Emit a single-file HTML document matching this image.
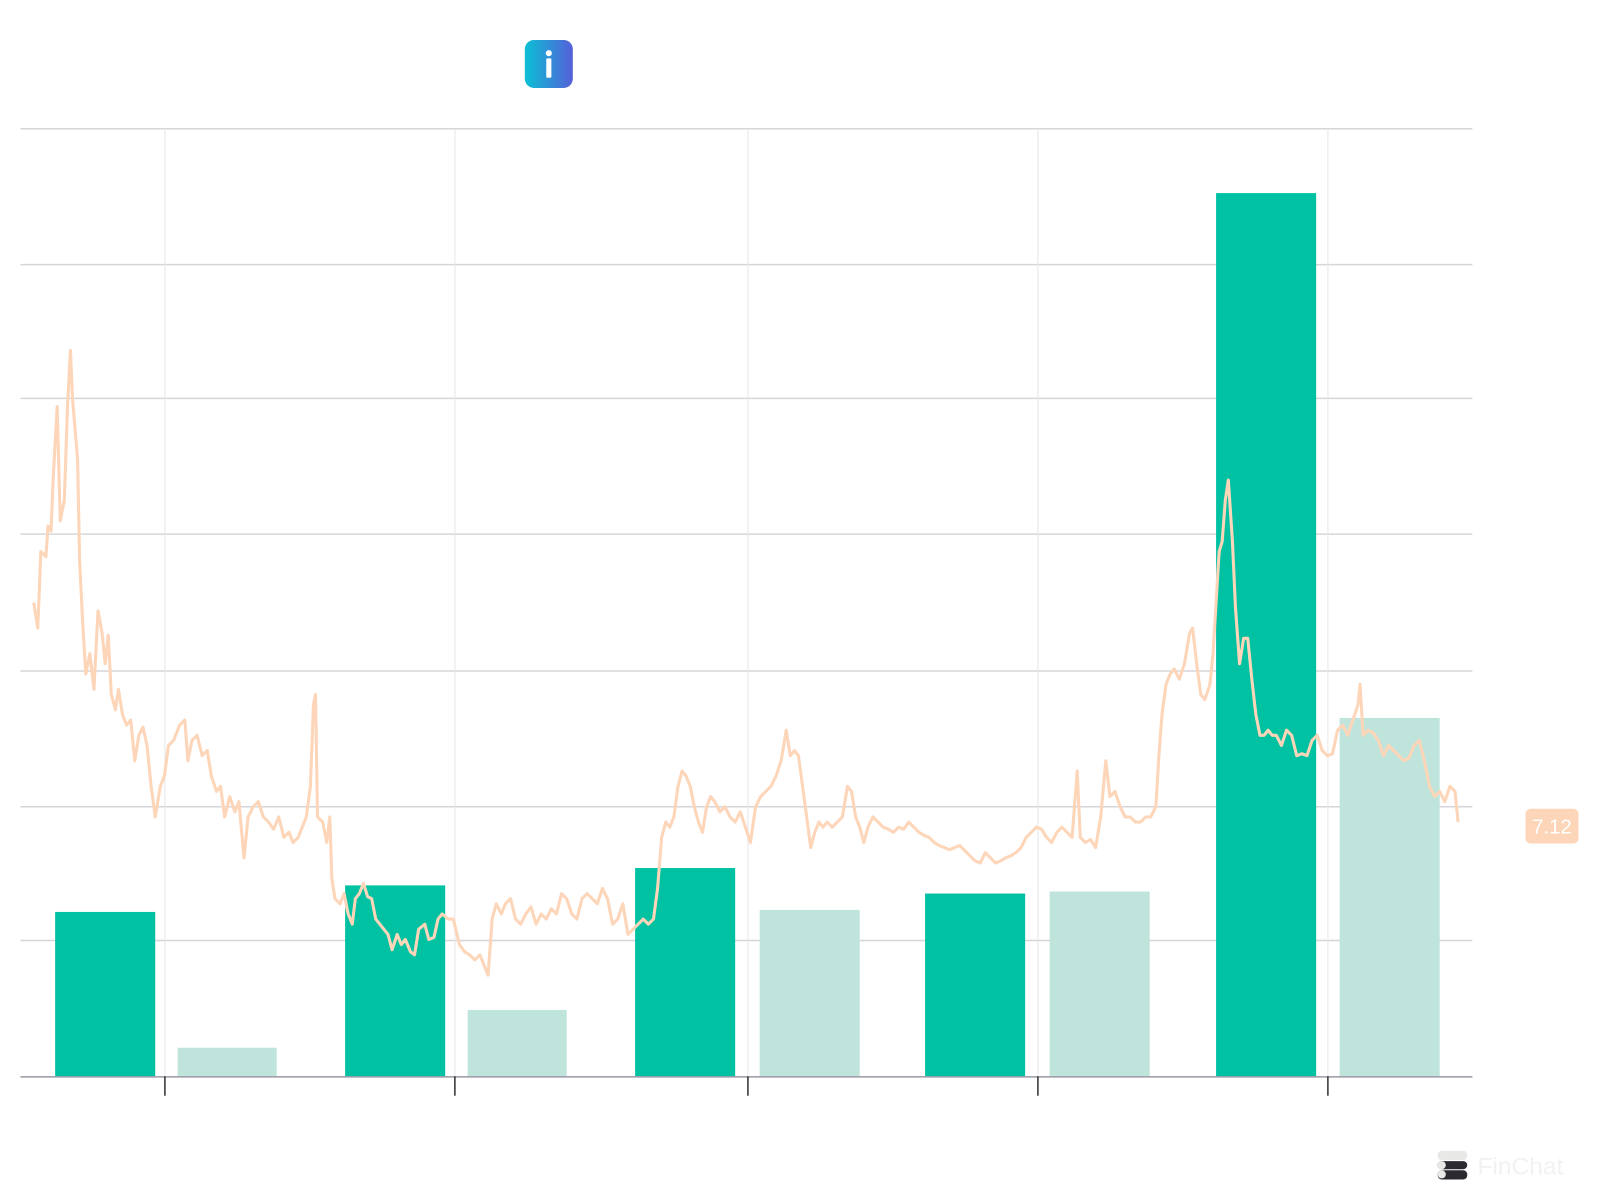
<!DOCTYPE html>
<html><head><meta charset="utf-8"><style>
html,body{margin:0;padding:0;background:#fff;width:1600px;height:1200px;overflow:hidden}
svg{display:block}
</style></head><body>
<svg width="1600" height="1200" viewBox="0 0 1567 1175" xmlns="http://www.w3.org/2000/svg">
<defs><linearGradient id="g" x1="0" x2="1" y1="0" y2="0"><stop offset="0" stop-color="#0bc0d6"/><stop offset="1" stop-color="#5560d8"/></linearGradient></defs>
<rect x="514" y="39" width="47" height="47" rx="9" fill="url(#g)"/>
<circle cx="537.5" cy="52" r="3" fill="#fff"/>
<rect x="535" y="57" width="5" height="19" rx="1" fill="#fff"/>
<g stroke="#d6d6da" stroke-width="1.5">
<line x1="20" y1="126" x2="1442" y2="126"/>
<line x1="20" y1="259" x2="1442" y2="259"/>
<line x1="20" y1="390" x2="1442" y2="390"/>
<line x1="20" y1="523" x2="1442" y2="523"/>
<line x1="20" y1="657" x2="1442" y2="657"/>
<line x1="20" y1="790" x2="1442" y2="790"/>
<line x1="20" y1="921" x2="1442" y2="921"/>
</g>
<g stroke="#e6e6e8" stroke-width="1">
<line x1="161.5" y1="126" x2="161.5" y2="1054"/>
<line x1="445.5" y1="126" x2="445.5" y2="1054"/>
<line x1="732.5" y1="126" x2="732.5" y2="1054"/>
<line x1="1016.5" y1="126" x2="1016.5" y2="1054"/>
<line x1="1300.5" y1="126" x2="1300.5" y2="1054"/>
</g>
<g fill="#00c2a3">
<rect x="54" y="893" width="98" height="161"/>
<rect x="338" y="867" width="98" height="187"/>
<rect x="622" y="850" width="98" height="204"/>
<rect x="906" y="875" width="98" height="179"/>
<rect x="1191" y="189" width="98" height="865"/>
</g>
<g fill="#bfe4db">
<rect x="174" y="1026" width="97" height="28"/>
<rect x="458" y="989" width="97" height="65"/>
<rect x="744" y="891" width="98" height="163"/>
<rect x="1028" y="873" width="98" height="181"/>
<rect x="1312" y="703" width="98" height="351"/>
</g>
<polyline fill="none" stroke="#fdd5b8" stroke-width="3" stroke-linejoin="round" points="33,590 37,615 40,540 45,545 47,515 50,520 52,470 56,398 59,510 63,490 66,400 69,343 71,390 76,450 78,550 81,610 84,660 88,640 92,675 96,598 100,620 103,650 106,622 109,680 113,695 116,675 120,700 124,710 128,705 132,745 136,720 140,712 144,730 148,770 152,800 157,770 161,760 165,730 170,725 176,710 181,705 184,745 188,725 193,720 198,740 203,735 207,760 212,775 216,770 220,800 225,780 230,795 234,785 239,840 243,800 248,790 253,785 258,800 263,805 268,812 273,800 278,820 283,815 287,825 292,820 296,810 300,800 304,770 307,690 309,680 311,800 316,805 320,825 323,800 325,860 328,880 333,885 337,875 341,895 345,905 348,880 352,875 356,865 360,878 364,880 368,900 372,905 376,910 380,915 384,930 389,915 393,925 397,920 402,932 406,935 410,910 416,905 420,920 425,918 429,900 433,895 439,900 444,900 450,925 455,932 460,935 465,940 470,935 474,945 478,955 482,900 486,885 491,895 495,885 500,880 505,900 510,905 515,895 520,888 525,905 530,895 535,900 540,890 545,895 550,875 555,880 560,895 565,900 570,880 575,875 580,880 585,885 590,870 595,880 600,905 605,900 610,885 615,915 620,910 625,905 630,900 635,905 640,900 644,870 648,820 652,805 656,810 660,800 664,770 668,755 672,760 676,770 680,790 684,805 688,815 692,790 696,780 700,785 705,795 710,790 715,800 720,805 725,795 730,810 735,825 740,790 745,780 750,775 755,770 760,760 765,745 770,715 774,740 778,735 782,740 786,770 790,800 794,830 798,815 802,805 806,810 810,805 815,810 820,805 825,800 830,770 834,775 838,800 842,810 846,825 850,810 855,800 860,805 865,810 870,812 875,815 880,810 885,812 890,805 895,810 900,815 905,818 910,820 915,825 920,828 925,830 930,832 935,830 940,828 945,833 950,838 955,843 960,845 965,835 970,840 975,845 980,843 985,840 990,838 995,835 1000,830 1005,820 1010,815 1015,810 1020,812 1025,820 1030,825 1035,815 1040,810 1045,815 1050,820 1055,755 1058,820 1063,825 1068,822 1073,830 1078,800 1083,745 1087,780 1092,775 1097,790 1102,800 1107,800 1112,805 1117,805 1122,800 1127,800 1132,790 1135,740 1138,700 1142,670 1146,660 1150,655 1155,665 1160,650 1165,620 1168,615 1172,650 1176,680 1180,685 1185,670 1188,640 1191,590 1194,540 1197,530 1200,490 1203,470 1207,530 1210,595 1214,650 1218,625 1222,625 1226,665 1230,700 1234,720 1238,720 1242,715 1246,720 1250,720 1255,730 1260,715 1265,720 1270,740 1275,738 1280,740 1285,725 1290,720 1295,735 1300,740 1305,738 1310,715 1315,710 1320,720 1325,705 1330,690 1332,670 1335,720 1340,715 1345,718 1350,725 1355,740 1360,730 1365,735 1370,740 1375,745 1380,742 1385,730 1390,725 1395,745 1400,770 1405,780 1410,775 1415,785 1420,770 1425,775 1428,805"/>
<line x1="20" y1="1054.5" x2="1442" y2="1054.5" stroke="#9a98a3" stroke-width="1.5"/>
<g stroke="#333" stroke-width="1.5">
<line x1="161.5" y1="1054" x2="161.5" y2="1073"/>
<line x1="445.5" y1="1054" x2="445.5" y2="1073"/>
<line x1="732.5" y1="1054" x2="732.5" y2="1073"/>
<line x1="1016.5" y1="1054" x2="1016.5" y2="1073"/>
<line x1="1300.5" y1="1054" x2="1300.5" y2="1073"/>
</g>
<rect x="1494" y="792" width="52" height="34" rx="5" fill="#fdd5b8"/>
<text x="1520" y="816" text-anchor="middle" font-family="Liberation Sans, sans-serif" font-size="20" fill="#fff">7.12</text>
<g>
<rect x="1408" y="1127" width="29" height="9" rx="4" fill="#e8e8e6"/>
<rect x="1408" y="1137" width="29" height="8" rx="4" fill="#2a2a30"/>
<rect x="1408" y="1146" width="29" height="9" rx="4" fill="#2a2a30"/>
<circle cx="1412" cy="1141" r="4" fill="#e8e8e6"/>
<circle cx="1412" cy="1150" r="4" fill="#e8e8e6"/>
<text x="1447" y="1150" font-family="Liberation Sans, sans-serif" font-size="24" fill="#f2f2f2">FinChat</text>
</g>
</svg>
</body></html>
